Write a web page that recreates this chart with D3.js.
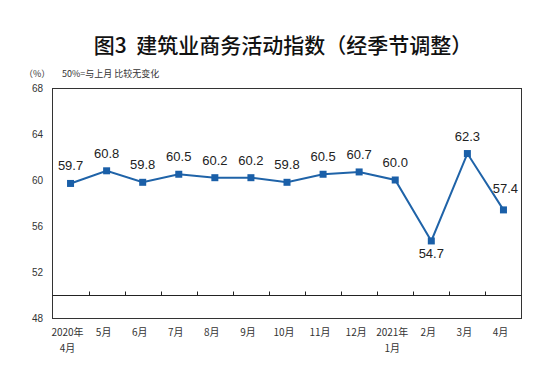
<!DOCTYPE html>
<html>
<head>
<meta charset="utf-8">
<script src="https://cdn.jsdelivr.net/npm/d3@7"></script>
<style>
body { margin: 0; background: #fff; }
text { font-family: "Liberation Sans", Arial, "Noto Sans CJK SC", sans-serif; }
</style>
</head>
<body>
<script>
// data
var months = ["2020年\n4月", "5月", "6月", "7月", "8月", "9月", "10月", "11月", "12月", "2021年\n1月", "2月", "3月", "4月"];
var values = [59.7, 60.8, 59.8, 60.5, 60.2, 60.2, 59.8, 60.5, 60.7, 60.0, 54.7, 62.3, 57.4];
var yTicks = [48, 52, 56, 60, 64, 68];
// label placement: 1 = above, -1 = below
var labelSide = [1, 1, 1, 1, 1, 1, 1, 1, 1, 1, -1, 1, 1];

var width = 552, height = 370;
var plotLeft = 52.5, plotRight = 521.5, plotTop = 88, plotBottom = 318;

var svg = d3.select("body").append("svg")
    .attr("width", width)
    .attr("height", height);

svg.append("rect").attr("width", width).attr("height", height).attr("fill", "#fff");

// title
svg.append("text")
    .attr("x", 283)
    .attr("y", 53)
    .attr("text-anchor", "middle")
    .style("font-family", "'Noto Sans CJK SC'")
    .style("font-size", "21px")
    .style("font-weight", "500")
    .attr("fill", "#111")
    .attr("xml:space", "preserve")
    .text("图3  建筑业商务活动指数（经季节调整）");

svg.append("text")
    .attr("x", 24).attr("y", 77)
    .style("font-family", "'Noto Sans CJK SC'")
    .style("font-size", "9px")
    .attr("fill", "#333")
    .text("（%）");

svg.append("text")
    .attr("x", 62).attr("y", 77)
    .style("font-family", "'Noto Sans CJK SC'")
    .style("font-size", "9px")
    .attr("fill", "#333")
    .text("50%=与上月 比较无变化");

var x = d3.scaleBand().domain(d3.range(months.length)).range([plotLeft, plotRight]);
var y = d3.scaleLinear().domain([48, 68]).range([plotBottom, plotTop]);

// frame
svg.append("rect")
    .attr("x", plotLeft).attr("y", plotTop + 0.5)
    .attr("width", plotRight - plotLeft).attr("height", plotBottom - plotTop)
    .attr("fill", "none")
    .attr("stroke", "#333")
    .attr("stroke-width", 1);

// y labels
svg.selectAll(".ylab")
    .data(yTicks)
    .enter()
    .append("text")
    .attr("class", "ylab")
    .attr("x", 43)
    .attr("y", function(d) { return y(d) + 4; })
    .attr("text-anchor", "end")
    .style("font-size", "10px")
    .attr("fill", "#333")
    .text(function(d) { return d; });

// 50 line with ticks
var y50 = Math.round(y(50)) + 0.5;
svg.append("line")
    .attr("x1", plotLeft).attr("x2", plotRight)
    .attr("y1", y50).attr("y2", y50)
    .attr("stroke", "#222");

svg.selectAll(".tick50")
    .data(d3.range(1, months.length))
    .enter()
    .append("line")
    .attr("x1", function(d) { return Math.round(x(d)) + 0.5; })
    .attr("x2", function(d) { return Math.round(x(d)) + 0.5; })
    .attr("y1", y50)
    .attr("y2", y50 - 4)
    .attr("stroke", "#222");

// x labels
var xl = svg.selectAll(".xlab")
    .data(months)
    .enter()
    .append("text")
    .attr("class", "xlab")
    .attr("text-anchor", "middle")
    .style("font-family", "'Noto Sans CJK SC'")
    .style("font-size", "10px")
    .attr("fill", "#333");

xl.each(function(d, i) {
    var parts = d.split("\n");
    var t = d3.select(this);
    parts.forEach(function(p, j) {
        t.append("tspan")
            .attr("x", x(i) + x.bandwidth() / 2 - 3)
            .attr("y", 336 + j * 16)
            .text(p);
    });
});

// line
var cx = function(d, i) { return x(i) + x.bandwidth() / 2; };
var line = d3.line()
    .x(cx)
    .y(function(d) { return y(d); });

svg.append("path")
    .datum(values)
    .attr("d", line)
    .attr("fill", "none")
    .attr("stroke", "#1f63a8")
    .attr("stroke-width", 2);

svg.selectAll(".pt")
    .data(values)
    .enter()
    .append("rect")
    .attr("class", "pt")
    .attr("x", function(d, i) { return cx(d, i) - 3.5; })
    .attr("y", function(d) { return y(d) - 3.5; })
    .attr("width", 7)
    .attr("height", 7)
    .attr("fill", "#1a5fa8");

svg.selectAll(".vlab")
    .data(values)
    .enter()
    .append("text")
    .attr("class", "vlab")
    .attr("x", function(d, i) { return cx(d, i) + (i == 12 ? 2 : 0); })
    .attr("y", function(d, i) {
        if (labelSide[i] < 0) return y(d) + 17;
        return y(d) - (i == 12 ? 17 : 13);
    })
    .attr("text-anchor", "middle")
    .style("font-size", "13px")
    .attr("fill", "#222")
    .text(function(d) { return d.toFixed(1); });
</script>
</body>
</html>
